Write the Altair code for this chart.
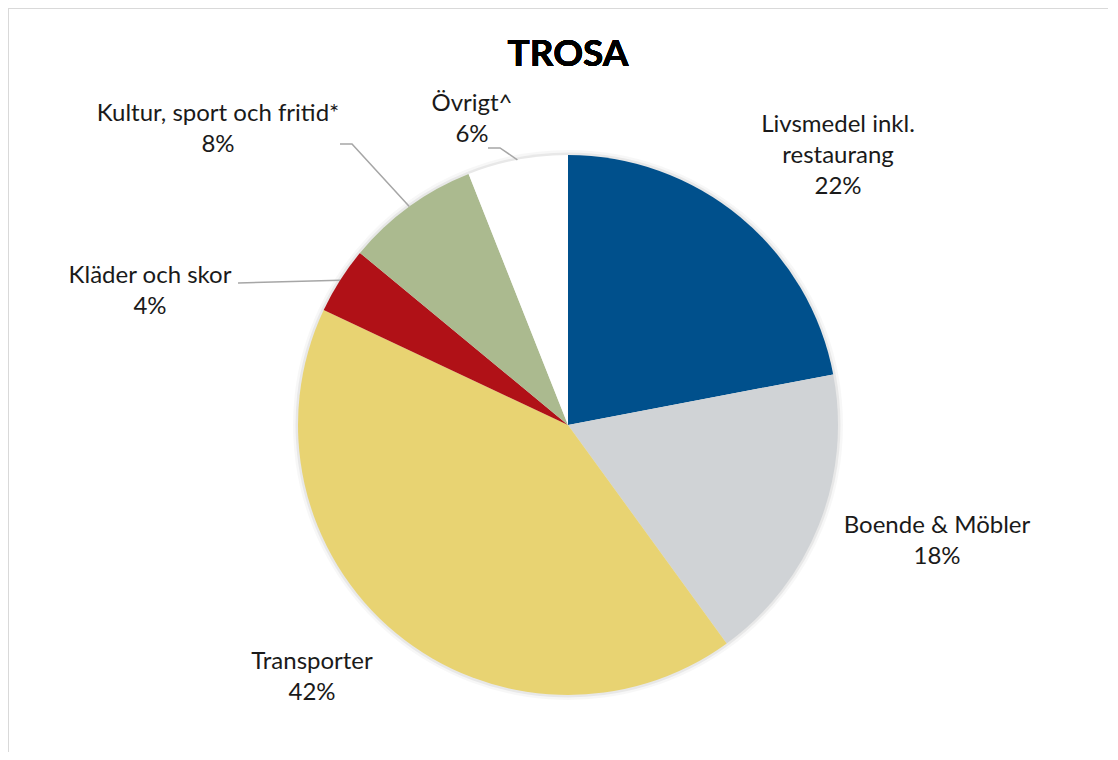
import altair as alt
import pandas as pd
import math

categories = ["Livsmedel inkl. restaurang", "Boende & Möbler", "Transporter",
              "Kläder och skor", "Kultur, sport och fritid*", "Övrigt^"]
label_lines = ["Livsmedel inkl.\nrestaurang", "Boende & Möbler", "Transporter",
               "Kläder och skor", "Kultur, sport och fritid*", "Övrigt^"]
shares = [22, 18, 42, 4, 8, 6]
colors = ["#00508C", "#D0D3D6", "#E8D372", "#B01117", "#ABBA8F", "#FFFFFF"]

# ---- layout (pixels, relative to pie centre) ----
W, H = 1080, 654
PAD_L, PAD_T = 20, 90
CX, CY = W / 2, H / 2
R = 270
LH = 31
label_offsets = [(270, -269), (369, 116), (-256, 252), (-418, -134), (-350, -296), (-96, -306)]
leader_starts = {3: [(-330, -142)], 4: [(-228, -281), (-216, -281)], 5: [(-80, -277), (-68, -277)]}

df = pd.DataFrame({"cat": categories, "value": shares, "idx": range(len(shares))})

# labels (first line y = block centre - (n-1)*LH/2)
texts = [f"{l}\n{v}%" for l, v in zip(label_lines, shares)]
lab = pd.DataFrame({
    "text": texts,
    "x": [CX + dx for dx, dy in label_offsets],
    "y": [CY + dy - (t.count("\n")) * LH / 2 for t, (dx, dy) in zip(texts, label_offsets)],
})

# leader lines: from label side to slice mid-angle on pie edge
total = sum(shares)
rows = []
cum = 0
mids = []
for v in shares:
    mids.append((cum + v / 2) / total * 2 * math.pi)
    cum += v
for i, pts in leader_starts.items():
    seq = [(CX + dx, CY + dy) for dx, dy in pts]
    a = mids[i]
    seq.append((CX + R * math.sin(a), CY - R * math.cos(a)))
    for k, (x, y) in enumerate(seq):
        rows.append({"g": i, "k": k, "x": x, "y": y})
lines = pd.DataFrame(rows)

base = alt.Chart(df)

shadow1 = base.mark_arc(outerRadius=R + 5, color="#000000", opacity=0.03).encode(
    theta=alt.Theta("value:Q", stack=True), order=alt.Order("idx:Q"))
shadow2 = base.mark_arc(outerRadius=R + 2.5, color="#000000", opacity=0.06).encode(
    theta=alt.Theta("value:Q", stack=True), order=alt.Order("idx:Q"))

pie = base.mark_arc(outerRadius=R).encode(
    theta=alt.Theta("value:Q", stack=True),
    color=alt.Color("cat:N", scale=alt.Scale(domain=categories, range=colors), legend=None),
    order=alt.Order("idx:Q"),
)

leaders = alt.Chart(lines).mark_line(color="#A6A6A6", strokeWidth=1.5).encode(
    x=alt.X("x:Q", scale=None), y=alt.Y("y:Q", scale=None),
    detail="g:N", order="k:Q")

labels = alt.Chart(lab).mark_text(
    lineBreak="\n", align="center", baseline="middle", font="Lato",
    fontSize=24, lineHeight=LH, color="#1a1a1a").encode(
    x=alt.X("x:Q", scale=None), y=alt.Y("y:Q", scale=None), text="text:N")

title = alt.Chart(df).mark_text(
    text="TROSA", font="Lato", fontWeight="bold", fontSize=37, align="center",
    baseline="middle", color="#000000").encode(
    x=alt.value(CX), y=alt.value(55 - 8 - PAD_T))

border_left = alt.Chart(df).mark_rule(color="#D9D9D9", strokeWidth=1.5).encode(
    x=alt.value(-PAD_L), y=alt.value(-PAD_T), y2=alt.value(H + 40))
border_top = alt.Chart(df).mark_rule(color="#D9D9D9", strokeWidth=1.5).encode(
    y=alt.value(-PAD_T), x=alt.value(-PAD_L), x2=alt.value(W + 40))

chart = alt.layer(shadow1, shadow2, pie, leaders, labels, title, border_left, border_top).properties(
    width=W, height=H,
    padding={"left": PAD_L, "top": PAD_T, "right": 0, "bottom": 0},
    autosize=alt.AutoSizeParams(type="none"),
    background="#FFFFFF",
).configure_view(strokeWidth=0, stroke="transparent")

chart.save("out.html", embed_options={"renderer": "svg", "actions": False})
